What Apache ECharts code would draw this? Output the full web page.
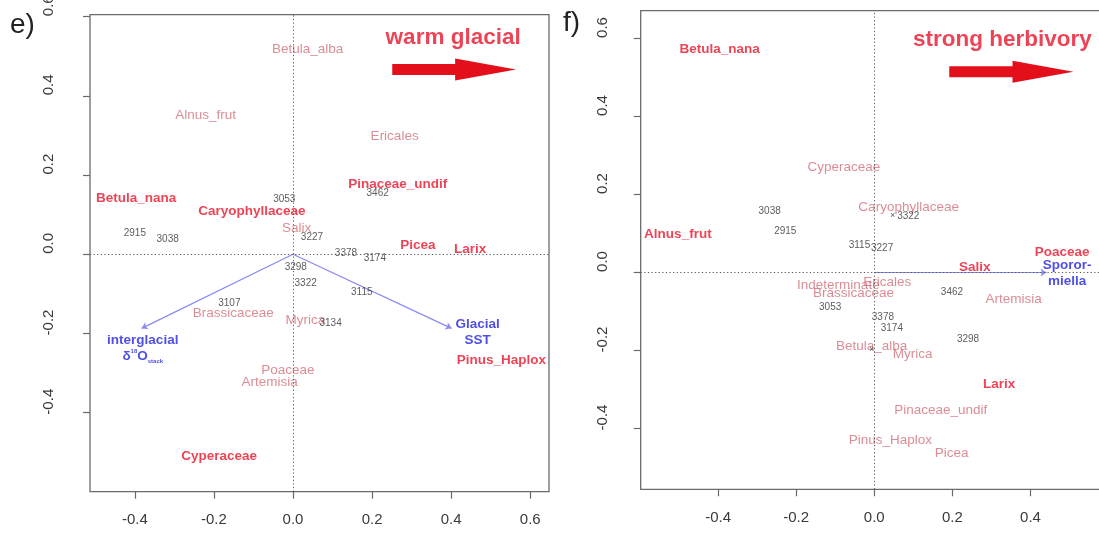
<!DOCTYPE html>
<html>
<head>
<meta charset="utf-8">
<script src="https://cdn.jsdelivr.net/npm/echarts@6/dist/echarts.min.js"></script>
<style>
  html, body { margin: 0; padding: 0; background: #fff; }
  #chart { width: 1099px; height: 535px; }
</style>
</head>
<body>
<div id="chart"></div>
<script>
// ===== Panel e: ordination of pollen taxa vs. glacial climate =====
const eMinorTaxa  = ['Betula_alba', 'Alnus_frut', 'Ericales', 'Salix', 'Brassicaceae', 'Myrica', 'Poaceae', 'Artemisia'];
const eMinorX     = [0.037, -0.221, 0.257, 0.009, -0.151, 0.031, -0.013, -0.059];
const eMinorY     = [0.519, 0.352, 0.297, 0.066, -0.149, -0.166, -0.292, -0.323];

const eMajorTaxa  = ['Betula_nana', 'Caryophyllaceae', 'Pinaceae_undif', 'Picea', 'Larix', 'Pinus_Haplox', 'Cyperaceae'];
const eMajorX     = [-0.397, -0.104, 0.265, 0.316, 0.448, 0.527, -0.187];
const eMajorY     = [0.141, 0.108, 0.177, 0.023, 0.013, -0.267, -0.511];

const eSamples    = ['3053', '3462', '3227', '2915', '3038', '3378', '3174', '3298', '3322', '3115', '3107', '3134'];
const eSamplesX   = [-0.022, 0.214, 0.048, -0.400, -0.317, 0.134, 0.207, 0.007, 0.032, 0.174, -0.161, 0.095];
const eSamplesY   = [0.140, 0.154, 0.042, 0.053, 0.039, 0.003, -0.010, -0.033, -0.073, -0.096, -0.124, -0.174];

// environmental vectors (arrow tips) and where their names sit
const eEnvX       = [-0.383, 0.401];
const eEnvY       = [-0.187, -0.187];
const eEnvLabelX  = [-0.380, 0.467];
const eEnvLabelY  = [-0.238, -0.197];

// ===== Panel f: ordination of pollen taxa vs. herbivory (Sporormiella) =====
const fMinorTaxa  = ['Cyperaceae', 'Caryophyllaceae', 'Indeterminate', 'Ericales', 'Brassicaceae', 'Artemisia', 'Betula_alba', 'Myrica', 'Pinaceae_undif', 'Pinus_Haplox', 'Picea'];
const fMinorX     = [-0.078, 0.088, -0.092, 0.033, -0.053, 0.357, -0.007, 0.098, 0.170, 0.041, 0.198];
const fMinorY     = [0.271, 0.167, -0.032, -0.026, -0.052, -0.068, -0.188, -0.210, -0.353, -0.431, -0.464];

const fMajorTaxa  = ['Betula_nana', 'Alnus_frut', 'Poaceae', 'Salix', 'Larix'];
const fMajorX     = [-0.396, -0.503, 0.481, 0.257, 0.320];
const fMajorY     = [0.573, 0.099, 0.053, 0.013, -0.287];

const fSamples    = ['3038', '2915', '3322', '3115', '3227', '3053', '3462', '3378', '3174', '3298'];
const fSamplesX   = [-0.268, -0.228, 0.087, -0.038, 0.020, -0.113, 0.199, 0.022, 0.045, 0.240];
const fSamplesY   = [0.158, 0.107, 0.143, 0.071, 0.062, -0.088, -0.051, -0.116, -0.143, -0.171];

const fCrossX     = [0.047, -0.007];
const fCrossY     = [0.147, -0.197];

const fEnvX       = [0.441];
const fEnvY       = [0.0];
const fEnvLabelX  = [0.494];
const fEnvLabelY  = [-0.003];

// axis ticks
const eTicksX = [-0.4, -0.2, 0.0, 0.2, 0.4, 0.6];
const eTicksY = [-0.4, -0.2, 0.0, 0.2, 0.4, 0.6];
const fTicksX = [-0.4, -0.2, 0.0, 0.2, 0.4];
const fTicksY = [-0.4, -0.2, 0.0, 0.2, 0.4, 0.6];

// ===== styling =====
const FONT = "'Liberation Sans', Arial, Helvetica, sans-serif";
const C_MINOR = '#d2717b';
const C_MAJOR = '#e8142a';
const C_ENV   = '#2323e0';
const C_VEC   = '#8a8af2';
const C_NUM   = '#333333';
const C_AXIS  = '#6a6a6a';
const C_ARROW = '#e3101c';

const fmt = v => (Math.abs(v) < 1e-9 ? 0 : v).toFixed(1);

function textLayer(labels, xs, ys, gi, labelStyle, z) {
  return {
    type: 'scatter', xAxisIndex: gi, yAxisIndex: gi, symbolSize: 0, silent: true, z: z || 3,
    data: labels.map((t, i) => ({ name: t, value: [xs[i], ys[i]] })),
    label: Object.assign({ show: true, position: 'inside', align: 'center', verticalAlign: 'middle',
      fontFamily: FONT, formatter: p => p.name }, labelStyle),
    emphasis: { disabled: true }
  };
}

function zeroLines(gi) {
  return {
    type: 'scatter', xAxisIndex: gi, yAxisIndex: gi, data: [], silent: true,
    markLine: {
      silent: true, symbol: 'none', animation: false,
      label: { show: false },
      lineStyle: { color: '#555', width: 1, type: [1.2, 2.4] },
      data: [{ xAxis: 0 }, { yAxis: 0 }]
    }
  };
}

function envVectors(xs, ys, gi) {
  return {
    type: 'lines', coordinateSystem: 'cartesian2d', xAxisIndex: gi, yAxisIndex: gi, silent: true, z: 2,
    symbol: ['none', 'arrow'], symbolSize: 6,
    lineStyle: { color: C_VEC, width: 1.2, opacity: 1 },
    data: xs.map((x, i) => ({ coords: [[0, 0], [x, ys[i]]] }))
  };
}

// big block arrow: [shaft start x, head base x, tip x, y]
function blockArrow(spec, gi) {
  return {
    type: 'custom', xAxisIndex: gi, yAxisIndex: gi, silent: true, z: 4,
    data: [spec],
    encode: { x: [0, 1, 2], y: 3 },
    renderItem: (params, api) => {
      const s = api.coord([api.value(0), api.value(3)]);
      const b = api.coord([api.value(1), api.value(3)]);
      const t = api.coord([api.value(2), api.value(3)]);
      const sh = 5.5, hh = 11;
      return {
        type: 'polygon',
        shape: { points: [[s[0], s[1] - sh], [b[0], b[1] - sh], [b[0], b[1] - hh], [t[0], t[1]],
                          [b[0], b[1] + hh], [b[0], b[1] + sh], [s[0], s[1] + sh]] },
        style: { fill: C_ARROW }
      };
    }
  };
}

const minorStyle = { fontSize: 13.5, color: C_MINOR };
const majorStyle = { fontSize: 13.5, color: C_MAJOR, fontWeight: 'bold' };
const numStyle   = { fontSize: 10, color: C_NUM };
const envRich = {
  a:   { fontFamily: FONT, fontSize: 13.5, fontWeight: 'bold', color: C_ENV, lineHeight: 16 },
  sup: { fontFamily: FONT, fontSize: 6, fontWeight: 'bold', color: C_ENV, lineHeight: 16, verticalAlign: 'top' },
  sub: { fontFamily: FONT, fontSize: 6, fontWeight: 'bold', color: C_ENV, lineHeight: 16, verticalAlign: 'bottom' }
};
const envStyle = { rich: envRich, formatter: p => p.name };

const eEnvText = ['{a|interglacial}\n{a|δ}{sup|18}{a|O}{sub|stack}', '{a|Glacial}\n{a|SST}'];
const fEnvText = ['{a|Sporor-}\n{a|miella}'];

function xAxisOf(gi, min, max, ticks, margin) {
  return {
    type: 'value', gridIndex: gi, min, max,
    axisLine: { show: false, onZero: false },
    axisTick: { show: true, length: 7, lineStyle: { color: C_AXIS, width: 1.2 }, customValues: ticks },
    axisLabel: { show: true, margin, fontFamily: FONT, fontSize: 15, color: '#3a3a3a', customValues: ticks, formatter: fmt },
    splitLine: { show: false }
  };
}
function yAxisOf(gi, min, max, ticks, margin) {
  return {
    type: 'value', gridIndex: gi, min, max,
    axisLine: { show: false, onZero: false },
    axisTick: { show: true, length: 7, lineStyle: { color: C_AXIS, width: 1.2 }, customValues: ticks },
    axisLabel: { show: true, margin, rotate: 90, padding: [0, 0, 0, 22], fontFamily: FONT, fontSize: 15, color: '#3a3a3a',
                 customValues: ticks, formatter: fmt },
    splitLine: { show: false }
  };
}

const gridBase = { show: true, borderColor: C_AXIS, borderWidth: 1.3, backgroundColor: 'transparent',
                   containLabel: false, outerBoundsMode: 'none' };

const option = {
  animation: false,
  backgroundColor: '#fff',
  grid: [
    Object.assign({ left: 90, top: 14.7, width: 459, height: 477 }, gridBase),
    Object.assign({ left: 640.7, top: 10.7, width: 475.3, height: 478.6 }, gridBase)
  ],
  xAxis: [
    xAxisOf(0, -0.5134, 0.6474, eTicksX, 21),
    xAxisOf(1, -0.5982, 0.6190, fTicksX, 21.5)
  ],
  yAxis: [
    yAxisOf(0, -0.5995, 0.6051, eTicksY, 34),
    yAxisOf(1, -0.5559, 0.6713, fTicksY, 30)
  ],
  graphic: [
    { type: 'text', style: { x: 10, y: 25, text: 'e)', fontFamily: FONT, fontSize: 28, fill: '#222', verticalAlign: 'middle' } },
    { type: 'text', style: { x: 563, y: 23, text: 'f)', fontFamily: FONT, fontSize: 28, fill: '#222', verticalAlign: 'middle' } }
  ],
  series: [
    // panel e
    zeroLines(0),
    envVectors(eEnvX, eEnvY, 0),
    textLayer(eMinorTaxa, eMinorX, eMinorY, 0, minorStyle, 3),
    textLayer(eSamples, eSamplesX, eSamplesY, 0, numStyle, 4),
    textLayer(eMajorTaxa, eMajorX, eMajorY, 0, majorStyle, 5),
    textLayer(eEnvText, eEnvLabelX, eEnvLabelY, 0, envStyle, 5),
    blockArrow([0.251, 0.410, 0.564, 0.467], 0),
    textLayer(['warm glacial'], [0.405], [0.548], 0, { fontSize: 22.5, fontWeight: 'bold', color: C_MAJOR }, 5),
    // panel f
    zeroLines(1),
    envVectors(fEnvX, fEnvY, 1),
    textLayer(fMinorTaxa, fMinorX, fMinorY, 1, minorStyle, 3),
    textLayer(fSamples, fSamplesX, fSamplesY, 1, numStyle, 4),
    textLayer(fCrossX.map(() => '×'), fCrossX, fCrossY, 1, { fontSize: 9, color: C_NUM }, 4),
    textLayer(fMajorTaxa, fMajorX, fMajorY, 1, majorStyle, 5),
    textLayer(fEnvText, fEnvLabelX, fEnvLabelY, 1, envStyle, 5),
    blockArrow([0.192, 0.354, 0.510, 0.515], 1),
    textLayer(['strong herbivory'], [0.328], [0.597], 1, { fontSize: 22.5, fontWeight: 'bold', color: C_MAJOR }, 5)
  ]
};

const chart = echarts.init(document.getElementById('chart'), null, { renderer: 'canvas' });
chart.setOption(option);
</script>
</body>
</html>
